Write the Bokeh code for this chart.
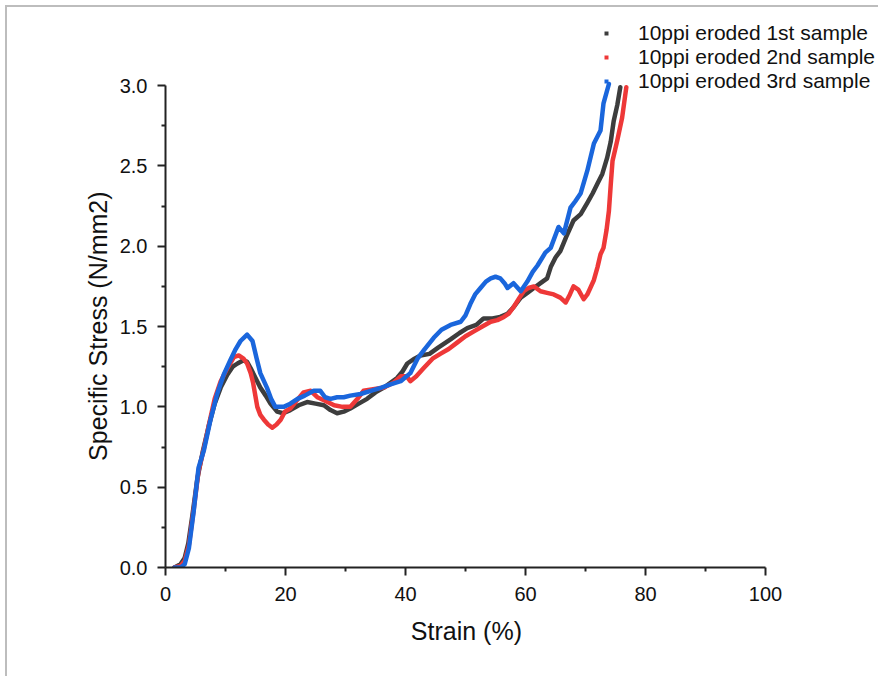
from bokeh.plotting import figure
from bokeh.models import (Range1d, FixedTicker, PrintfTickFormatter, Legend, LegendItem)
from bokeh.embed import file_html
from bokeh.resources import INLINE

# ---- data ----
s1_strain = [1.5, 2.5, 3.2, 3.8, 4.5, 5.3, 6.2, 7.2, 8.2, 9.2, 10.3, 11.2, 12.0, 13.0, 13.6, 14.2,
             15.0, 15.8, 16.7, 17.5, 18.6, 19.6, 20.8, 22.2, 23.6, 25.0, 26.4, 27.5, 28.6, 29.7,
             30.8, 32.2, 33.6, 35.0, 36.4, 37.5, 38.6, 39.5, 40.3, 41.5, 42.5, 44.0, 45.5, 47.5,
             49.0, 50.3, 51.8, 53.0, 54.5, 55.8, 57.0, 58.0, 59.2, 60.3, 61.4, 62.5, 63.6, 64.2,
             65.0, 65.8, 66.8, 68.0, 69.2, 70.3, 71.2, 72.0, 72.8, 73.6, 74.2, 74.7, 75.3, 75.8]
s1_stress = [0.0, 0.02, 0.06, 0.15, 0.33, 0.55, 0.72, 0.88, 1.02, 1.12, 1.20, 1.25, 1.27, 1.29, 1.28, 1.24,
             1.18, 1.12, 1.07, 1.02, 0.97, 0.96, 0.98, 1.01, 1.03, 1.02, 1.01, 0.98, 0.96, 0.97,
             0.99, 1.02, 1.05, 1.09, 1.12, 1.15, 1.18, 1.22, 1.27, 1.30, 1.32, 1.33, 1.37, 1.42,
             1.46, 1.49, 1.51, 1.55, 1.55, 1.56, 1.58, 1.62, 1.68, 1.71, 1.74, 1.77, 1.80, 1.87,
             1.93, 1.97, 2.06, 2.16, 2.20, 2.27, 2.33, 2.39, 2.45, 2.55, 2.65, 2.78, 2.88, 2.99]

s2_strain = [1.5, 2.5, 3.2, 3.9, 4.7, 5.5, 6.4, 7.3, 8.2, 9.2, 10.3, 11.4, 12.2, 13.0, 13.6, 14.2,
             14.6, 15.3, 15.8, 16.4, 17.1, 17.8, 18.5, 19.2, 19.9, 20.8, 21.9, 23.0, 24.2, 25.3,
             26.5, 28.1, 29.5, 30.8, 32.0, 33.0, 34.6, 36.4, 38.0, 39.2, 40.2, 40.8, 41.8, 43.0,
             44.5, 45.8, 47.2, 48.6, 50.0, 51.4, 52.8, 54.2, 55.3, 56.4, 57.2, 58.0, 59.0, 59.7,
             60.5, 61.4, 62.5, 63.6, 64.7, 65.8, 66.7, 67.4, 68.0, 68.8, 69.7, 70.3, 70.8, 71.4,
             72.0, 72.5, 73.0, 73.5, 73.9, 74.2, 74.5, 75.3, 76.1, 76.8]
s2_stress = [0.0, 0.01, 0.04, 0.14, 0.36, 0.60, 0.74, 0.90, 1.05, 1.16, 1.24, 1.31, 1.32, 1.30, 1.27, 1.21,
             1.15, 1.00, 0.95, 0.92, 0.89, 0.87, 0.89, 0.92, 0.97, 0.99, 1.04, 1.09, 1.10, 1.06,
             1.04, 1.01, 1.00, 1.00, 1.05, 1.10, 1.11, 1.12, 1.15, 1.19, 1.19, 1.16, 1.19, 1.24,
             1.30, 1.33, 1.36, 1.40, 1.44, 1.47, 1.50, 1.53, 1.54, 1.56, 1.58, 1.62, 1.68, 1.72,
             1.74, 1.75, 1.72, 1.71, 1.70, 1.68, 1.65, 1.70, 1.75, 1.73, 1.67, 1.70, 1.74, 1.79,
             1.87, 1.95, 1.99, 2.10, 2.22, 2.38, 2.53, 2.66, 2.80, 2.99]

s3_strain = [1.5, 2.5, 3.2, 3.9, 4.7, 5.5, 6.4, 7.5, 8.6, 9.7, 10.8, 11.7, 12.5, 13.6, 14.5, 15.2,
             15.8, 16.9, 17.6, 18.3, 19.7, 20.8, 22.0, 23.2, 24.7, 25.8, 26.6, 27.5, 28.6, 29.7,
             30.8, 32.5, 34.2, 36.0, 37.5, 39.2, 40.8, 42.0, 43.2, 44.7, 46.0, 47.5, 49.2, 50.0,
             50.8, 51.6, 52.5, 53.4, 54.2, 55.0, 55.8, 56.5, 57.0, 58.0, 59.2, 60.3, 61.2, 62.0,
             63.3, 64.2, 65.5, 66.4, 67.5, 68.3, 69.2, 70.3, 71.4, 72.5, 73.0, 73.9]
s3_stress = [0.0, 0.0, 0.02, 0.12, 0.35, 0.62, 0.73, 0.92, 1.08, 1.20, 1.29, 1.36, 1.41, 1.45, 1.41, 1.30,
             1.21, 1.12, 1.05, 1.00, 1.00, 1.02, 1.05, 1.07, 1.10, 1.10, 1.06, 1.05, 1.06, 1.06,
             1.07, 1.08, 1.10, 1.12, 1.14, 1.16, 1.21, 1.30, 1.36, 1.43, 1.48, 1.51, 1.53, 1.57,
             1.64, 1.70, 1.74, 1.78, 1.80, 1.81, 1.80, 1.77, 1.74, 1.77, 1.72, 1.78, 1.84, 1.88,
             1.96, 1.99, 2.12, 2.08, 2.24, 2.28, 2.33, 2.47, 2.64, 2.72, 2.89, 3.01]

series_names = ["10ppi eroded 1st sample", "10ppi eroded 2nd sample", "10ppi eroded 3rd sample"]
x_ticks = [0, 20, 40, 60, 80, 100]
x_minor = [10, 30, 50, 70, 90]
y_ticks = [0.0, 0.5, 1.0, 1.5, 2.0, 2.5, 3.0]
y_minor = [0.25, 0.75, 1.25, 1.75, 2.25, 2.75]
x_title = "Strain (%)"
y_title = "Specific Stress (N/mm2)"

colors = ["#3d3d3d", "#ee3838", "#1a66dc"]
FONT = "Liberation Sans"
NBSP = "\u00a0"

# frame: x 0..100 spans 600px, y 0..3 spans 482px; frame extended up/right (axes bounded)
p = figure(width=878, height=676, output_backend="svg", toolbar_location=None,
           x_range=Range1d(0, 118.83), y_range=Range1d(0, 3.48),
           min_border_left=165, min_border_right=0, min_border_top=8, min_border_bottom=109)
p.styles = {"box-shadow": "inset 5px 5px 0 #ffffff, inset 7px 7px 0 #bdbdbd"}
p.background_fill_alpha = 0
p.border_fill_alpha = 0
p.outline_line_color = None
p.xgrid.visible = False
p.ygrid.visible = False

for xs, ys, c in [(s1_strain, s1_stress, colors[0]), (s2_strain, s2_stress, colors[1]),
                  (s3_strain, s3_stress, colors[2])]:
    p.line(xs, ys, line_color=c, line_width=4.5, line_join="round", line_cap="round")

# legend marker renderers (a single NaN point, never drawn on the plot)
leg_r = []
for c, sz in zip(colors, [5, 4, 5]):
    leg_r.append(p.scatter(x=[float("nan")], y=[float("nan")], marker="square", size=sz,
                           fill_color=c, line_color=None))

legend = Legend(items=[LegendItem(label=n, renderers=[r]) for n, r in zip(series_names, leg_r)],
                location=(436, 474), orientation="vertical", padding=0, margin=0, spacing=0,
                glyph_width=10, glyph_height=24, label_height=24, label_standoff=27,
                label_text_font=FONT, label_text_font_size="21px", label_text_color="#111111",
                border_line_color=None, background_fill_alpha=0)
p.add_layout(legend)

p.xaxis.ticker = FixedTicker(ticks=x_ticks, minor_ticks=x_minor)
p.yaxis.ticker = FixedTicker(ticks=y_ticks, minor_ticks=y_minor)
p.xaxis.bounds = (0, 100)
p.yaxis.bounds = (0, 3)
p.xaxis.formatter = PrintfTickFormatter(format="%d")
p.yaxis.formatter = PrintfTickFormatter(format="%.1f")
# non-breaking padding keeps each title centred on its (bounded) axis, not on the wider frame
p.xaxis.axis_label = x_title + NBSP * 16
p.yaxis.axis_label = y_title + NBSP * 11

for ax in (p.xaxis, p.yaxis):
    ax.axis_line_width = 2
    ax.axis_line_color = "#222222"
    ax.major_tick_line_width = 2
    ax.major_tick_line_color = "#222222"
    ax.minor_tick_line_width = 2
    ax.minor_tick_line_color = "#222222"
    ax.major_tick_in = 0
    ax.major_tick_out = 8
    ax.minor_tick_in = 0
    ax.minor_tick_out = 4
    ax.major_label_text_font = FONT
    ax.major_label_text_font_size = "20px"
    ax.major_label_text_color = "#111111"
    ax.axis_label_text_font = FONT
    ax.axis_label_text_font_size = "25px"
    ax.axis_label_text_font_style = "normal"
    ax.axis_label_text_color = "#111111"

p.xaxis.major_label_standoff = 11
p.xaxis.axis_label_standoff = 13
p.yaxis.major_label_standoff = 10
p.yaxis.axis_label_standoff = 5

open("out.html", "w").write(file_html(p, INLINE))
